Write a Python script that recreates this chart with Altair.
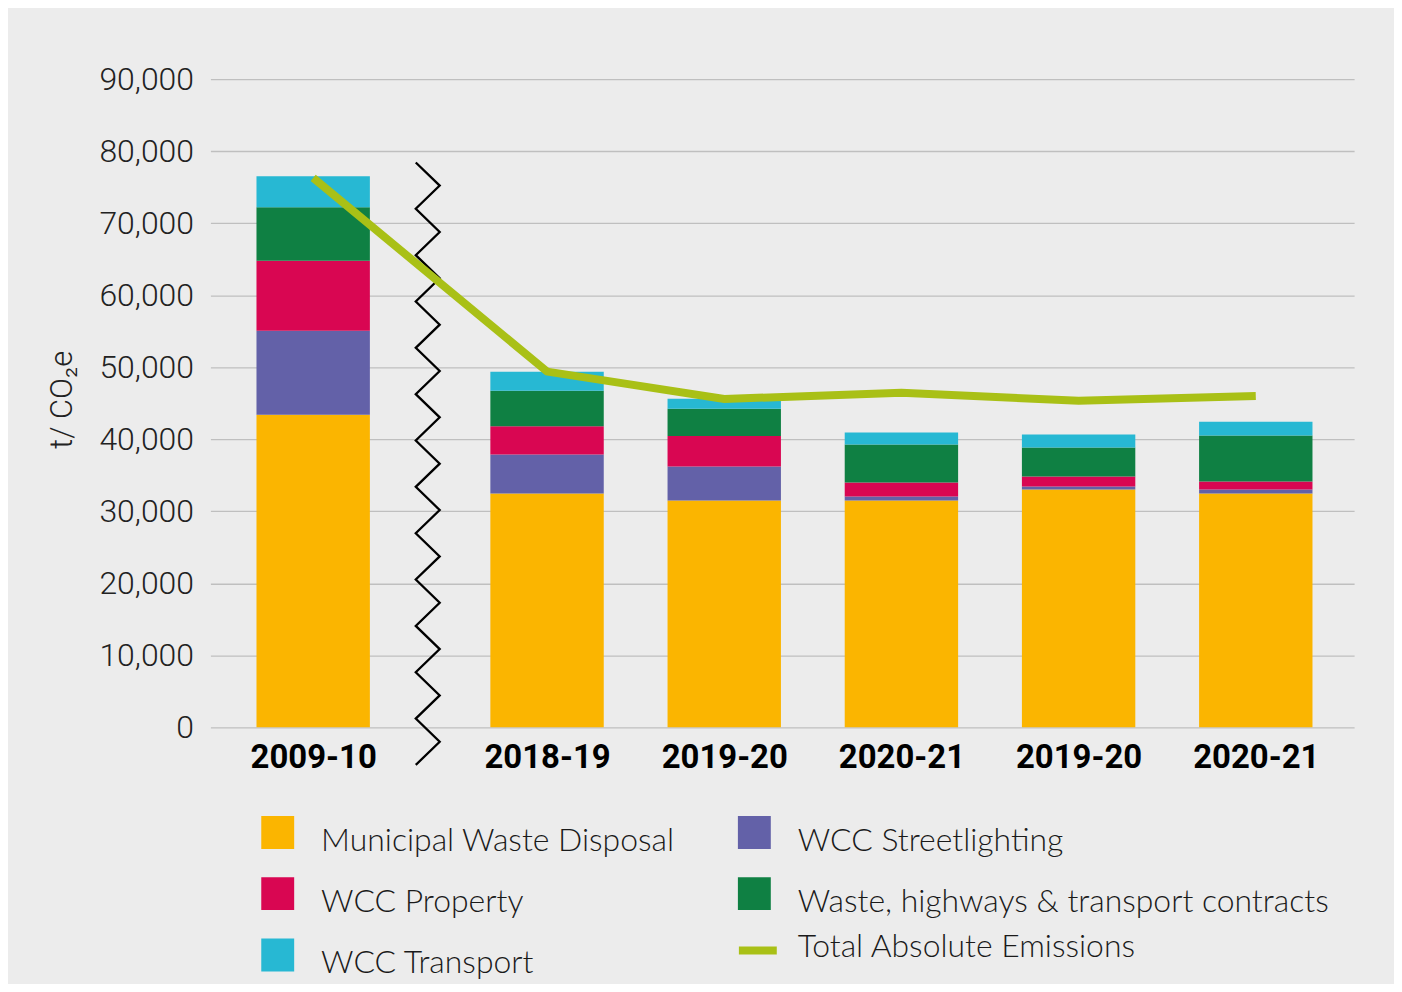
import altair as alt
import pandas as pd

# ---------------- data ----------------
periods = ["2009-10", "2018-19", "2019-20", "2020-21", "2019-20", "2020-21"]
series_names = [
    "Municipal Waste Disposal",
    "WCC Streetlighting",
    "WCC Property",
    "Waste, highways & transport contracts",
    "WCC Transport",
]
municipal = [43420, 32480, 31510, 31510, 33030, 32480]
streetlighting = [11640, 5400, 4710, 550, 420, 550]
property_ = [9730, 3920, 4250, 1930, 1380, 1110]
contracts = [7440, 4950, 3780, 5280, 4020, 6370]
transport = [4290, 2630, 1390, 1660, 1800, 1940]
total_absolute = [76300, 49400, 45600, 46450, 45350, 46000]
line_name = "Total Absolute Emissions"
y_ticks = [0, 10000, 20000, 30000, 40000, 50000, 60000, 70000, 80000, 90000]

# ---------------- styling / layout ----------------
colors = ["#fbb500", "#6361a8", "#d90652", "#0f8043", "#27b8d3"]
line_color = "#a9c016"
bg = "#ececec"
x_pos = [0.58, 1.9, 2.9, 3.9, 4.9, 5.9]   # bar centres (with a wider gap after the first bar)
half_bar = 0.32
x_max = 6.455
break_x = [1.159, 1.294]                 # zig-zag axis-break marker
break_top, break_bottom, break_segments = 78440, -5220, 26

# ---------------- tables ----------------
values = [municipal, streetlighting, property_, contracts, transport]
rows = []
for i, p in enumerate(periods):
    base = 0
    for j, s in enumerate(series_names):
        v = values[j][i]
        rows.append({"period": p, "x0": x_pos[i] - half_bar, "x1": x_pos[i] + half_bar,
                     "series": s, "y0": base, "y1": base + v, "order": j})
        base += v
bars_df = pd.DataFrame(rows)

line_df = pd.DataFrame({"x": x_pos, "total": total_absolute, "series": [line_name] * len(x_pos)})

step = (break_top - break_bottom) / break_segments
zig_df = pd.DataFrame({
    "i": list(range(break_segments + 1)),
    "zx": [break_x[k % 2] for k in range(break_segments + 1)],
    "zy": [break_top - k * step for k in range(break_segments + 1)],
})

label_expr = "[" + ",".join(f"'{p}'" for p in periods) + "][indexof([" + \
    ",".join(str(v) for v in x_pos) + "], datum.value)]"

x_scale = alt.Scale(domain=[0, x_max], nice=False, zero=False)
y_scale = alt.Scale(domain=[0, 90000], nice=False, zero=True)

x_axis = alt.Axis(values=x_pos, labelExpr=label_expr, title=None, domain=False, ticks=False,
                  grid=False, labelFont="Roboto", labelFontWeight="bold", labelFontSize=33,
                  labelColor="#000000", labelPadding=14, labelFlush=False, labelOverlap=False)
y_axis = alt.Axis(values=y_ticks, labelExpr="format(datum.value, ',')", title="t/ CO₂e",
                  domain=False, ticks=False,
                  grid=True, gridColor="#bfbfbf", gridWidth=1.3, labelFont="Roboto",
                  labelFontWeight=300, labelFontSize=32, labelColor="#222222", labelPadding=17,
                  titleFont="Roboto", titleFontWeight=300, titleFontSize=31, titleColor="#222222",
                  titleAngle=-90, titleX=-132, titleY=321, titleAlign="center",
                  labelOverlap=False)

label_style = dict(labelFont="Lato", labelFontSize=32, labelFontWeight=300,
                   labelColor="#1a1a1a", padding=0, labelLimit=0, title=None, orient="none")

bars = alt.Chart(bars_df).mark_bar().encode(
    x=alt.X("x0:Q", scale=x_scale, axis=x_axis),
    x2="x1:Q",
    y=alt.Y("y0:Q", scale=y_scale, axis=y_axis),
    y2="y1:Q",
    color=alt.Color(
        "series:N",
        scale=alt.Scale(domain=series_names, range=colors),
        legend=alt.Legend(
            legendX=51, legendY=747, columns=2, direction="horizontal",
            symbolType="M-1,-1.5H1V0.5H-1Z", symbolSize=1089, symbolStrokeWidth=0,
            labelOffset=27, rowPadding=19.5, columnPadding=63, **label_style,
        ),
    ),
    order=alt.Order("order:Q"),
)

zigzag = alt.Chart(zig_df).mark_line(color="#000000", strokeWidth=2.3, clip=False).encode(
    x=alt.X("zx:Q", scale=x_scale, axis=x_axis),
    y=alt.Y("zy:Q", scale=y_scale, axis=y_axis),
    order="i:Q",
)

total_line = alt.Chart(line_df).mark_line(strokeWidth=8, strokeCap="butt").encode(
    x=alt.X("x:Q", scale=x_scale, axis=x_axis),
    y=alt.Y("total:Q", scale=y_scale, axis=y_axis),
    stroke=alt.Stroke(
        "series:N",
        scale=alt.Scale(domain=[line_name], range=[line_color]),
        legend=alt.Legend(
            legendX=526, legendY=847,
            symbolType="M-1,0.2H1", symbolSize=1444, symbolStrokeWidth=8,
            labelOffset=17, **label_style,
        ),
    ),
)

chart = alt.layer(bars, zigzag, total_line).resolve_scale(color="independent").properties(
    width=1147,
    height=650,
    background=bg,
    padding={"left": 203, "top": 70, "right": 40, "bottom": 256},
    autosize=alt.AutoSizeParams(type="none"),
).configure_view(stroke=None)

chart.save("out.html", embed_options={"renderer": "svg", "actions": False})
